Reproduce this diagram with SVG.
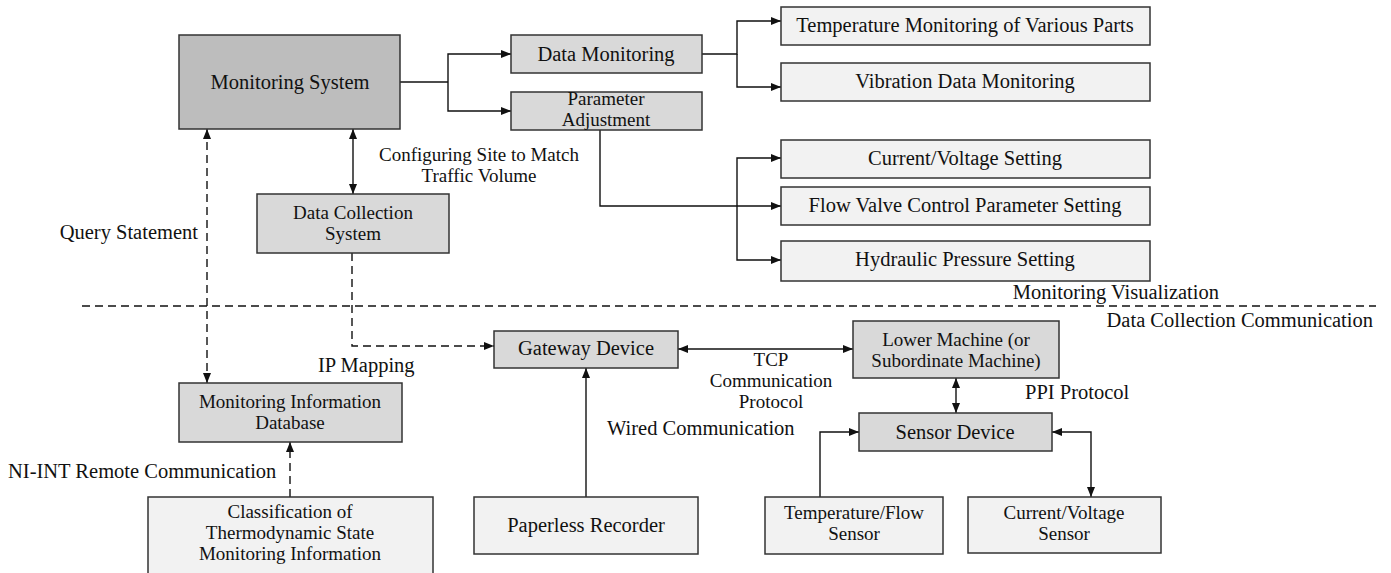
<svg xmlns="http://www.w3.org/2000/svg" width="1391" height="573" viewBox="0 0 1391 573">
  <defs>
    <marker id="arr" viewBox="0 0 10 8" refX="10" refY="4" markerWidth="10" markerHeight="8" markerUnits="userSpaceOnUse" orient="auto-start-reverse">
      <path d="M0,0 L10,4 L0,8 z" fill="#111"/>
    </marker>
    <style>
      .box rect { stroke: #333; stroke-width: 1.5; }
      .dark rect { fill: #bdbdbd; }
      .mid rect { fill: #d9d9d9; }
      .light rect { fill: #f2f2f2; }
      text { font-family: "Liberation Serif", "Times New Roman", serif; font-size: 20.5px; fill: #111; }
      text.m { font-size: 19px; }
      .c { text-anchor: middle; }
      .ln { fill: none; stroke: #111; stroke-width: 1.4; }
      .dash { fill: none; stroke: #111; stroke-width: 1.4; stroke-dasharray: 8 5; }
    </style>
  </defs>
  <rect width="1391" height="573" fill="#fff"/>

  <!-- connectors -->
  <g id="connectors">
    <path class="ln" d="M400,82 H448"/>
    <path class="ln" d="M448,82 V54 H511" marker-end="url(#arr)"/>
    <path class="ln" d="M448,82 V111 H511" marker-end="url(#arr)"/>
    <path class="ln" d="M702,54 H737 V21 H781" marker-end="url(#arr)"/>
    <path class="ln" d="M737,54 V87 H781" marker-end="url(#arr)"/>
    <path class="ln" d="M600,130 V206 H781" marker-end="url(#arr)"/>
    <path class="ln" d="M737,206 V158 H781" marker-end="url(#arr)"/>
    <path class="ln" d="M737,206 V260 H781" marker-end="url(#arr)"/>
    <path class="ln" d="M353,129 V194" marker-start="url(#arr)" marker-end="url(#arr)"/>
    <path class="dash" d="M207,129 V383" marker-start="url(#arr)" marker-end="url(#arr)"/>
    <path class="dash" d="M352,253 V346 H494" marker-end="url(#arr)"/>
    <path class="dash" d="M290,497 V442" marker-end="url(#arr)"/>
    <path class="ln" d="M678,349 H853" marker-start="url(#arr)" marker-end="url(#arr)"/>
    <path class="ln" d="M956,378 V413" marker-start="url(#arr)" marker-end="url(#arr)"/>
    <path class="ln" d="M586,497 V368" marker-end="url(#arr)"/>
    <path class="ln" d="M820,497 V432 H859" marker-end="url(#arr)"/>
    <path class="ln" d="M1052,432 H1091 V497" marker-start="url(#arr)" marker-end="url(#arr)"/>
    <!-- layer separator -->
    <path class="dash" d="M82,306 H1376"/>
  </g>

  <!-- edge labels -->
  <g id="labels">
    <text class="c m" x="479" y="160.5">Configuring Site to Match<tspan x="479" dy="21">Traffic Volume</tspan></text>
    <text x="198" y="239" text-anchor="end">Query Statement</text>
    <text x="318" y="372">IP Mapping</text>
    <text x="1219" y="299" text-anchor="end">Monitoring Visualization</text>
    <text x="1373" y="327" text-anchor="end">Data Collection Communication</text>
    <text class="c m" x="771" y="365.5">TCP<tspan x="771" dy="21">Communication</tspan><tspan x="771" dy="21">Protocol</tspan></text>
    <text x="1025" y="399">PPI Protocol</text>
    <text x="607" y="435">Wired Communication</text>
    <text x="8" y="478">NI-INT Remote Communication</text>
  </g>

  <!-- nodes -->
  <g id="monitoring-system" class="box dark">
    <rect x="179" y="35" width="221" height="94"/>
    <text class="c" x="290" y="89">Monitoring System</text>
  </g>
  <g id="data-monitoring" class="box mid">
    <rect x="511" y="35" width="191" height="38"/>
    <text class="c" x="606" y="61">Data Monitoring</text>
  </g>
  <g id="parameter-adjustment" class="box mid">
    <rect x="511" y="92" width="191" height="38"/>
    <text class="c m" x="606" y="105">Parameter<tspan x="606" dy="21">Adjustment</tspan></text>
  </g>
  <g id="temperature-monitoring" class="box light">
    <rect x="781" y="7" width="369" height="38"/>
    <text class="c" x="965" y="32">Temperature Monitoring of Various Parts</text>
  </g>
  <g id="vibration-monitoring" class="box light">
    <rect x="781" y="63" width="369" height="38"/>
    <text class="c" x="965" y="88">Vibration Data Monitoring</text>
  </g>
  <g id="current-voltage-setting" class="box light">
    <rect x="781" y="140" width="369" height="38"/>
    <text class="c" x="965" y="165">Current/Voltage Setting</text>
  </g>
  <g id="flow-valve-setting" class="box light">
    <rect x="781" y="187" width="369" height="38"/>
    <text class="c" x="965" y="212">Flow Valve Control Parameter Setting</text>
  </g>
  <g id="hydraulic-pressure-setting" class="box light">
    <rect x="781" y="241" width="369" height="40"/>
    <text class="c" x="965" y="266">Hydraulic Pressure Setting</text>
  </g>
  <g id="data-collection-system" class="box mid">
    <rect x="257" y="194" width="192" height="59"/>
    <text class="c m" x="353" y="218.5">Data Collection<tspan x="353" dy="21">System</tspan></text>
  </g>
  <g id="monitoring-information-database" class="box mid">
    <rect x="179" y="383" width="223" height="59"/>
    <text class="c m" x="290" y="407.5">Monitoring Information<tspan x="290" dy="21">Database</tspan></text>
  </g>
  <g id="gateway-device" class="box mid">
    <rect x="494" y="331" width="184" height="37"/>
    <text class="c" x="586" y="355">Gateway Device</text>
  </g>
  <g id="lower-machine" class="box mid">
    <rect x="853" y="321" width="206" height="57"/>
    <text class="c m" x="956" y="345.5">Lower Machine (or<tspan x="956" dy="21">Subordinate Machine)</tspan></text>
  </g>
  <g id="sensor-device" class="box mid">
    <rect x="859" y="413" width="193" height="38"/>
    <text class="c" x="955" y="439">Sensor Device</text>
  </g>
  <g id="classification" class="box light">
    <rect x="148" y="497" width="285" height="84"/>
    <text class="c m" x="290" y="518">Classification of<tspan x="290" dy="21">Thermodynamic State</tspan><tspan x="290" dy="21">Monitoring Information</tspan></text>
  </g>
  <g id="paperless-recorder" class="box light">
    <rect x="474" y="497" width="224" height="57"/>
    <text class="c" x="586" y="532">Paperless Recorder</text>
  </g>
  <g id="temperature-flow-sensor" class="box light">
    <rect x="765" y="497" width="178" height="57"/>
    <text class="c m" x="854" y="518.5">Temperature/Flow<tspan x="854" dy="21">Sensor</tspan></text>
  </g>
  <g id="current-voltage-sensor" class="box light">
    <rect x="968" y="497" width="193" height="56"/>
    <text class="c m" x="1064" y="518.5">Current/Voltage<tspan x="1064" dy="21">Sensor</tspan></text>
  </g>
</svg>
